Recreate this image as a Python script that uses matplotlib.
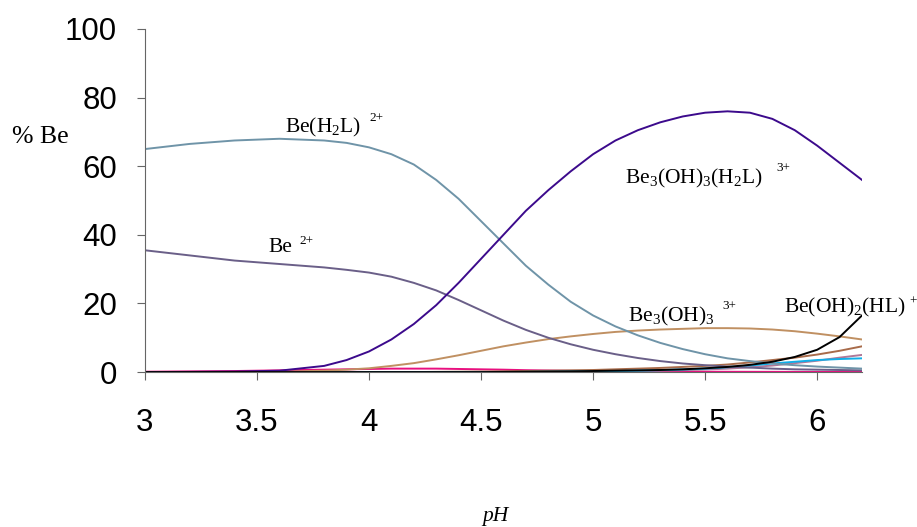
import matplotlib
matplotlib.use("Agg")
import matplotlib.pyplot as plt

plt.rcParams["mathtext.fontset"] = "custom"
plt.rcParams["mathtext.rm"] = "Liberation Serif"
plt.rcParams["mathtext.it"] = "Liberation Serif:italic"
plt.rcParams["mathtext.default"] = "rm"

ph = [3.0, 3.2, 3.4, 3.6, 3.8, 3.9, 4.0, 4.1, 4.2, 4.3, 4.4, 4.5, 4.6, 4.7, 4.8, 4.9,
      5.0, 5.1, 5.2, 5.3, 5.4, 5.5, 5.6, 5.7, 5.8, 5.9, 6.0, 6.1, 6.2]

be_h2l = [65, 66.5, 67.5, 68, 67.5, 66.8, 65.5, 63.5, 60.5, 56, 50.5, 44, 37.5, 31, 25.5, 20.5,
          16.5, 13.3, 10.7, 8.5, 6.7, 5.2, 4.0, 3.2, 2.5, 2.0, 1.6, 1.3, 1.0]
be = [35.5, 34, 32.5, 31.5, 30.5, 29.8, 29, 27.8, 26, 23.8, 21, 18, 15, 12.3, 10, 8.1,
      6.5, 5.2, 4.1, 3.2, 2.5, 2.0, 1.6, 1.3, 1.0, 0.8, 0.7, 0.6, 0.5]
be3_oh3_h2l = [0, 0.05, 0.15, 0.4, 1.8, 3.5, 6, 9.5, 14, 19.5, 26, 33, 40, 47, 53, 58.5,
               63.5, 67.5, 70.5, 72.8, 74.5, 75.6, 76, 75.6, 73.8, 70.5, 66, 61, 56]
be3_oh3 = [0, 0, 0, 0.1, 0.4, 0.7, 1.1, 1.8, 2.6, 3.7, 4.9, 6.2, 7.5, 8.6, 9.6, 10.4,
           11.1, 11.7, 12.1, 12.4, 12.6, 12.8, 12.8, 12.7, 12.4, 11.9, 11.2, 10.4, 9.5]
be_oh2_hl = [0, 0, 0, 0, 0, 0, 0, 0, 0, 0, 0, 0, 0.05, 0.1, 0.15, 0.2,
             0.3, 0.4, 0.5, 0.6, 0.8, 1.1, 1.5, 2.1, 3.0, 4.4, 6.5, 10.2, 16.5]
brown = [0, 0, 0, 0, 0, 0, 0, 0, 0, 0.05, 0.1, 0.15, 0.2, 0.3, 0.4, 0.5,
         0.6, 0.8, 1.0, 1.2, 1.5, 1.8, 2.2, 2.8, 3.5, 4.2, 5.1, 6.2, 7.5]
cyan = [0, 0, 0, 0, 0, 0, 0, 0, 0, 0, 0, 0, 0, 0.05, 0.1, 0.15,
        0.2, 0.3, 0.4, 0.55, 0.75, 1.0, 1.4, 1.9, 2.5, 3.0, 3.5, 3.8, 4.0]
mauve = [0, 0, 0, 0, 0, 0, 0, 0, 0, 0, 0, 0, 0, 0, 0.05, 0.1,
         0.15, 0.2, 0.3, 0.4, 0.55, 0.75, 1.0, 1.4, 1.9, 2.6, 3.3, 4.2, 5.0]
pink = [0.1, 0.2, 0.3, 0.5, 0.7, 0.8, 0.9, 1.0, 1.0, 1.0, 0.9, 0.8, 0.7, 0.55, 0.45, 0.35,
        0.3, 0.25, 0.2, 0.15, 0.12, 0.1, 0.08, 0.07, 0.06, 0.05, 0.05, 0.04, 0.04]

fig = plt.figure(figsize=(9.17, 5.27), dpi=100)
ax = fig.add_axes([0.158, 0.294, 0.782, 0.651])

ax.plot(ph, pink, color="#e8107f", lw=1.4)
ax.plot(ph, mauve, color="#b07898", lw=1.4)
ax.plot(ph, brown, color="#a86b4a", lw=1.4)
ax.plot(ph, cyan, color="#10aee8", lw=1.4)
ax.plot(ph, be3_oh3, color="#c09062", lw=1.4)
ax.plot(ph, be, color="#6a5f88", lw=1.4)
ax.plot(ph, be_h2l, color="#6f94a8", lw=1.4)
ax.plot(ph, be3_oh3_h2l, color="#3c0a8c", lw=1.4)
ax.plot(ph, be_oh2_hl, color="black", lw=1.4)

ax.set_xlim(3, 6.2)
ax.set_ylim(0, 100)
ax.set_xticks([3, 3.5, 4, 4.5, 5, 5.5, 6])
ax.set_xticklabels(["3", "3.5", "4", "4.5", "5", "5.5", "6"])
ax.set_yticks([0, 20, 40, 60, 80, 100])
ax.tick_params(labelsize=22.5, direction="out", length=6, color="#666666")
ax.tick_params(axis="y", pad=14)
ax.tick_params(axis="x", pad=20)
for lab in ax.get_xticklabels() + ax.get_yticklabels():
    lab.set_family("Liberation Sans")
ax.spines["top"].set_visible(False)
ax.spines["right"].set_visible(False)
ax.spines["left"].set_color("#666666")
ax.spines["bottom"].set_color("#666666")

serif = "Liberation Serif"
fig.text(0.013, 0.729, "% Be", fontsize=18.5, family=serif)
fig.text(0.54, 0.019, "pH", fontsize=15.5, family=serif, style="italic",
         ha="center", va="center")

lab_fs = 15.5
sup_fs = 9.5
ax.text(3.625, 69.7, "Be(H$_2$L)", fontsize=lab_fs, family=serif)
ax.text(4.0, 73.2, "2+", fontsize=sup_fs, family=serif)
ax.text(3.55, 35.0, "Be", fontsize=lab_fs, family=serif)
ax.text(3.69, 37.3, "2+", fontsize=sup_fs, family=serif)
ax.text(5.143, 55.0, "Be$_3$(OH)$_3$(H$_2$L)", fontsize=lab_fs, family=serif)
ax.text(5.82, 58.6, "3+", fontsize=sup_fs, family=serif)
ax.text(5.156, 14.6, "Be$_3$(OH)$_3$", fontsize=lab_fs, family=serif)
ax.text(5.576, 18.5, "3+", fontsize=sup_fs, family=serif)
ax.text(5.85, 17.5, "Be(OH)$_2$(HL)", fontsize=lab_fs, family=serif, clip_on=False)
ax.text(6.41, 19.5, "+", fontsize=sup_fs, family=serif, clip_on=False)

fig.savefig("out.png", dpi=100)
